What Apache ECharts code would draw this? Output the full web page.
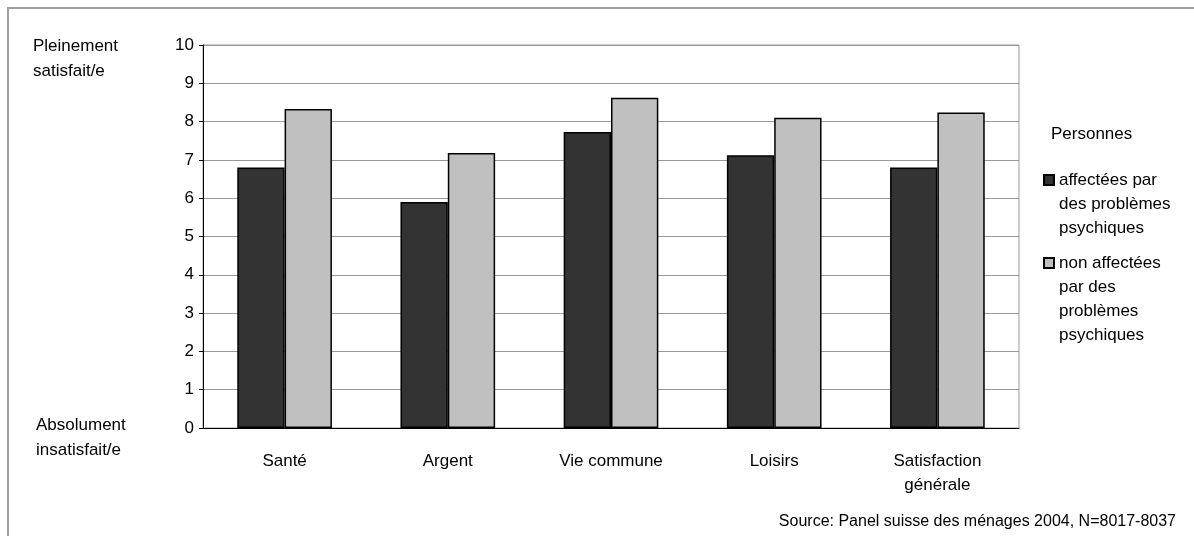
<!DOCTYPE html>
<html>
<head>
<meta charset="utf-8">
<script src="https://cdn.jsdelivr.net/npm/echarts@6/dist/echarts.min.js"></script>
<style>
  html, body { margin: 0; padding: 0; background: #fff; }
  #chart { width: 1194px; height: 536px; }
</style>
</head>
<body>
<div id="chart"></div>
<script>
// données
const categories = ['Santé', 'Argent', 'Vie commune', 'Loisirs', 'Satisfaction\ngénérale'];
const affectees = [6.8, 5.9, 7.73, 7.12, 6.8];
const nonAffectees = [8.33, 7.18, 8.62, 8.1, 8.24];
const seriesNames = ['affectées par\ndes problèmes\npsychiques', 'non affectées\npar des\nproblèmes\npsychiques'];
const yTicks = [0, 10, 1];

const font = '"Liberation Sans", Arial, sans-serif';
const chart = echarts.init(document.getElementById('chart'));

// la légende centre le texte sur le carré : on ajoute des lignes vides
// au début pour que le carré tombe sur la première ligne
function padTop(name) {
  const n = name.split('\n').length;
  return '\n'.repeat(n - 1) + name;
}

const legendText = { fontFamily: font, fontSize: 17, lineHeight: 24, color: '#000' };

const option = {
  backgroundColor: '#fff',
  animation: false,
  textStyle: { fontFamily: font },
  title: {
    text: 'Personnes',
    left: 1046,
    top: 121,
    textStyle: { fontFamily: font, fontSize: 17, fontWeight: 'normal', color: '#000' }
  },
  legend: [
    {
      data: [seriesNames[0]],
      formatter: padTop,
      left: 1043,
      top: 120,
      padding: 0,
      itemWidth: 10,
      itemHeight: 10,
      icon: 'rect',
      textStyle: legendText
    },
    {
      data: [seriesNames[1]],
      formatter: padTop,
      left: 1043,
      top: 179,
      padding: 0,
      itemWidth: 10,
      itemHeight: 10,
      icon: 'rect',
      textStyle: legendText
    }
  ],
  grid: {
    left: 203,
    right: 175,
    top: 45,
    bottom: 108,
    show: true,
    borderColor: '#999',
    borderWidth: 1
  },
  xAxis: {
    type: 'category',
    data: categories,
    axisLine: { lineStyle: { color: '#000', width: 1 } },
    axisTick: { show: false },
    axisLabel: { fontFamily: font, fontSize: 17, color: '#000', margin: 21, lineHeight: 24 }
  },
  yAxis: {
    type: 'value',
    min: yTicks[0],
    max: yTicks[1],
    interval: yTicks[2],
    axisLine: { show: true, lineStyle: { color: '#000', width: 1 } },
    axisTick: { show: true, length: 4, lineStyle: { color: '#000' } },
    axisLabel: { fontFamily: font, fontSize: 17, color: '#000', margin: 9 },
    splitLine: { lineStyle: { color: '#999', width: 1 } }
  },
  series: [
    {
      name: seriesNames[0],
      type: 'bar',
      data: affectees,
      barGap: '0%',
      barCategoryGap: '42%',
      itemStyle: { color: '#333333', borderColor: '#000', borderWidth: 1.5 }
    },
    {
      name: seriesNames[1],
      type: 'bar',
      data: nonAffectees,
      itemStyle: { color: '#c0c0c0', borderColor: '#000', borderWidth: 1.5 }
    }
  ],
  graphic: [
    {
      type: 'rect',
      shape: { x: 8, y: 8, width: 1400, height: 800 },
      style: { fill: 'none', stroke: '#a0a0a0', lineWidth: 2 },
      silent: true
    },
    {
      type: 'text',
      left: 33,
      top: 34,
      style: { text: 'Pleinement\nsatisfait/e', fontFamily: font, fontSize: 17, lineHeight: 25, fill: '#000' }
    },
    {
      type: 'text',
      left: 36,
      top: 413,
      style: { text: 'Absolument\ninsatisfait/e', fontFamily: font, fontSize: 17, lineHeight: 25, fill: '#000' }
    },
    {
      type: 'text',
      right: 18,
      top: 514,
      style: { text: 'Source: Panel suisse des ménages 2004, N=8017-8037', fontFamily: font, fontSize: 16, fill: '#000' }
    }
  ]
};

chart.setOption(option);
</script>
</body>
</html>
